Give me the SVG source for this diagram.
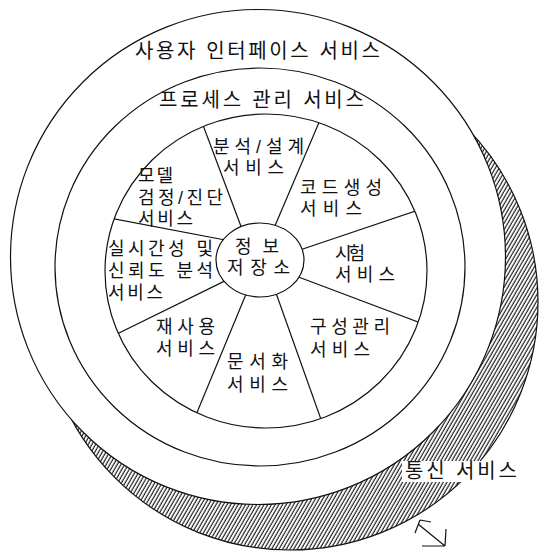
<svg xmlns="http://www.w3.org/2000/svg" width="546" height="559" viewBox="0 0 546 559">
<style>
.ln{fill:none;stroke:#111;stroke-width:1.2}
.wf{fill:#fff;stroke:#111;stroke-width:1.2}
.t{font-family:"Liberation Sans","Noto Sans CJK KR",sans-serif;font-size:18px;fill:#111;dominant-baseline:central}
.tt{font-size:20px}
</style>
<defs>
<pattern id="hatch" width="3.2" height="10" patternUnits="userSpaceOnUse" patternTransform="rotate(30)">
<line x1="1" y1="-1" x2="1" y2="11" stroke="#111" stroke-width="1.1"/>
</pattern>
<clipPath id="wheelClip"><ellipse cx="266" cy="271" rx="161" ry="157"/></clipPath>
</defs>
<rect width="546" height="559" fill="#fff"/>
<g id="communication-shadow">
<circle cx="290" cy="302" r="248" fill="url(#hatch)" stroke="#111" stroke-width="1.2"/>
</g>
<g id="user-interface-service">
<circle class="wf" cx="258" cy="257" r="247.5"/>
<text class="t tt" x="135" y="51" textLength="245" lengthAdjust="spacing">사용자 인터페이스 서비스</text>
</g>
<g id="process-management-service">
<ellipse class="ln" cx="260" cy="267" rx="205" ry="199"/>
<text class="t tt" x="159" y="100" textLength="205" lengthAdjust="spacing">프로세스 관리 서비스</text>
</g>
<g id="wheel">
<ellipse class="ln" cx="266" cy="271" rx="161" ry="157"/>
</g>
<g id="connectors" clip-path="url(#wheelClip)" class="ln">
<line x1="244.9" y1="236.7" x2="194.2" y2="101.7"/>
<line x1="270.2" y1="237" x2="328.7" y2="99.7"/>
<line x1="288" y1="254" x2="441" y2="202.3"/>
<line x1="238.2" y1="242.5" x2="89.7" y2="214.1"/>
<line x1="239.2" y1="273.9" x2="95.7" y2="344.5"/>
<line x1="252.2" y1="279.2" x2="187" y2="436.6"/>
<line x1="270.2" y1="276.7" x2="328.7" y2="441"/>
<line x1="281.2" y1="270.5" x2="444.1" y2="331.8"/>
</g>
<g id="repository">
<ellipse class="wf" cx="260" cy="260" rx="44" ry="37"/>
<text class="t" x="235" y="247" textLength="44" lengthAdjust="spacing">정보</text>
<text class="t" x="227" y="268" textLength="63" lengthAdjust="spacing">저장소</text>
</g>
<g id="analysis-design">
<text class="t" x="213" y="146.5" textLength="91" lengthAdjust="spacing">분석/설계</text>
<text class="t" x="223" y="167.5" textLength="61" lengthAdjust="spacing">서비스</text>
</g>
<g id="model-verification">
<text class="t" x="138" y="176" textLength="35" lengthAdjust="spacing">모델</text>
<text class="t" x="138" y="197.5" textLength="85" lengthAdjust="spacing">검정/진단</text>
<text class="t" x="138" y="218.5" textLength="55" lengthAdjust="spacing">서비스</text>
</g>
<g id="code-generation">
<text class="t" x="300" y="187.5" textLength="82" lengthAdjust="spacing">코드생성</text>
<text class="t" x="300" y="209" textLength="62" lengthAdjust="spacing">서비스</text>
</g>
<g id="realtime-reliability">
<text class="t" x="108" y="249" textLength="105" lengthAdjust="spacing">실시간성 및</text>
<text class="t" x="108" y="271" textLength="105" lengthAdjust="spacing">신뢰도 분석</text>
<text class="t" x="108" y="292.5" textLength="55" lengthAdjust="spacing">서비스</text>
</g>
<g id="test">
<text class="t" x="335" y="253.5" textLength="30" lengthAdjust="spacing">시험</text>
<text class="t" x="335" y="275" textLength="60" lengthAdjust="spacing">서비스</text>
</g>
<g id="configuration-management">
<text class="t" x="310" y="327" textLength="80" lengthAdjust="spacing">구성관리</text>
<text class="t" x="310" y="350" textLength="60" lengthAdjust="spacing">서비스</text>
</g>
<g id="reuse">
<text class="t" x="156" y="327" textLength="59" lengthAdjust="spacing">재사용</text>
<text class="t" x="156" y="349" textLength="59" lengthAdjust="spacing">서비스</text>
</g>
<g id="documentation">
<text class="t" x="227" y="362" textLength="61" lengthAdjust="spacing">문서화</text>
<text class="t" x="227" y="385" textLength="61" lengthAdjust="spacing">서비스</text>
</g>
<g id="communication-service">
<rect x="402" y="461" width="118" height="21" fill="#fff"/>
<text class="t tt" x="405" y="471" textLength="112" lengthAdjust="spacing">통신 서비스</text>
<path class="ln" d="M420,520 L415,533 M420,520 L431,522 M418,524 L445,546 M445,546 L422,546 M445,546 L446,529"/>
</g>
</svg>
